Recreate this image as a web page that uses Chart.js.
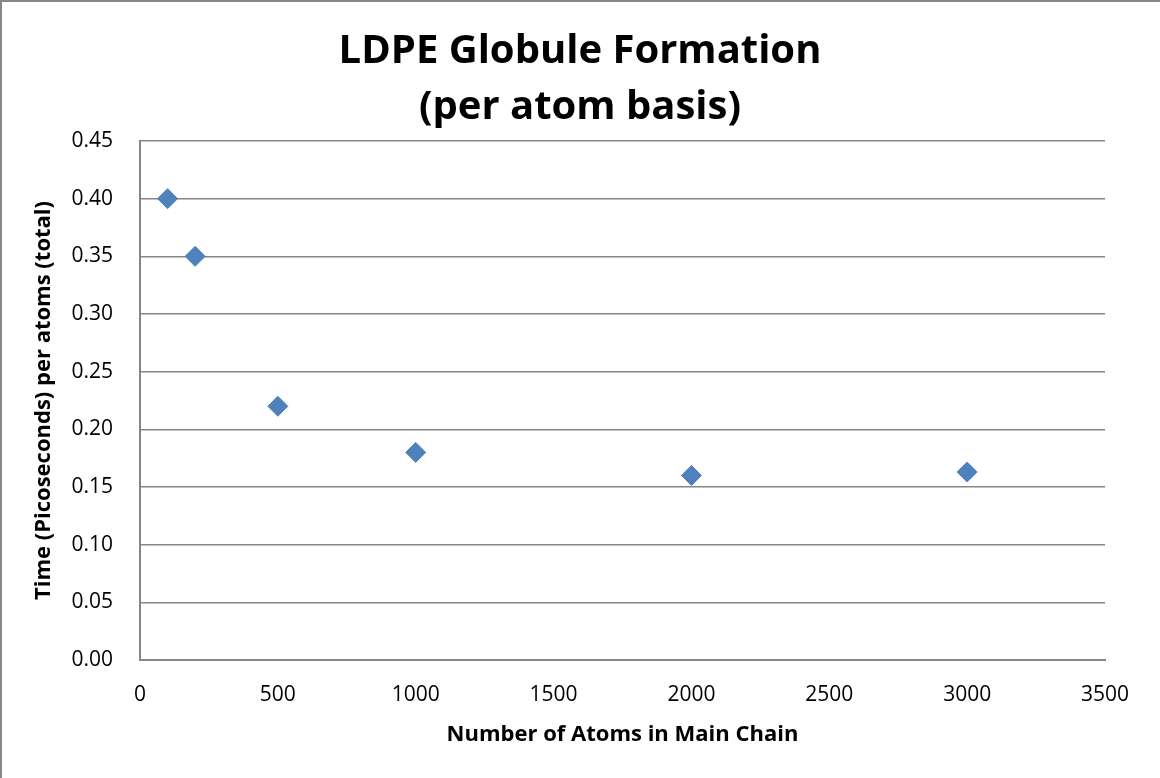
<!DOCTYPE html>
<html>
<head>
<meta charset="utf-8">
<script src="https://cdn.jsdelivr.net/npm/chart.js@4"></script>
<style>
  html, body { margin: 0; padding: 0; background: #fff; }
  #wrap { position: relative; width: 1160px; height: 778px; }
  #frame { position: absolute; left: 0; top: 0; width: 1160px; height: 778px;
           box-sizing: border-box; border-left: 2px solid #868686; border-top: 2px solid #868686;
           pointer-events: none; }
</style>
</head>
<body>
<div id="wrap">
  <canvas id="chart" width="1160" height="778"></canvas>
  <div id="frame"></div>
</div>
<script>
// data
const atoms = [100, 200, 500, 1000, 2000, 3000];
const timePerAtom = [0.40, 0.35, 0.22, 0.18, 0.16, 0.163];

const titleLines = ['LDPE Globule Formation', '(per atom basis)'];
const xTitle = 'Number of Atoms in Main Chain';
const yTitle = 'Time (Picoseconds) per atoms (total)';

const fontFam = '"Open Sans", "Liberation Sans", sans-serif';
const gridGray = '#868686';

const points = atoms.map((a, i) => ({ x: a, y: timePerAtom[i] }));

const ctx = document.getElementById('chart');
new Chart(ctx, {
    type: 'scatter',
    data: {
        datasets: [{
            label: 'Series1',
            data: points,
            pointStyle: 'rectRot',
            pointRadius: 10,
            pointHoverRadius: 10,
            backgroundColor: '#4F81BD',
            borderColor: '#4F81BD',
            borderWidth: 1
        }]
    },
    options: {
        responsive: false,
        animation: false,
        layout: { padding: 0 },
        plugins: {
            legend: { display: false },
            tooltip: { enabled: false },
            title: {
                display: true,
                text: titleLines,
                color: '#000',
                font: { family: fontFam, size: 40, weight: 'bold', lineHeight: 1.4 },
                padding: { top: 24, bottom: 5 }
            }
        },
        scales: {
            x: {
                type: 'linear',
                min: 0,
                max: 3500,
                afterFit: (s) => { s.height = 118; },
                ticks: {
                    stepSize: 500,
                    color: '#000',
                    padding: 22,
                    font: { family: fontFam, size: 21 },
                    callback: (v) => String(v)
                },
                grid: { display: false, drawTicks: false },
                border: { display: true, color: gridGray, width: 2 },
                title: {
                    display: true,
                    text: xTitle,
                    color: '#000',
                    font: { family: fontFam, size: 22, weight: 'bold' },
                    padding: { top: 0, bottom: 30 }
                }
            },
            y: {
                min: 0,
                max: 0.45,
                afterFit: (s) => { s.width = 140; },
                ticks: {
                    stepSize: 0.05,
                    color: '#000',
                    padding: 27,
                    font: { family: fontFam, size: 21 },
                    callback: (v) => v.toFixed(2)
                },
                grid: { color: gridGray, lineWidth: 1.5, drawTicks: false },
                border: { display: true, color: gridGray, width: 2 },
                title: {
                    display: true,
                    text: yTitle,
                    color: '#000',
                    font: { family: fontFam, size: 22, weight: 'bold' },
                    padding: { top: 31, bottom: 0 }
                }
            },
            // empty right-hand axis, only to keep the plot clear of the right edge
            yRight: {
                position: 'right',
                min: 0,
                max: 0.45,
                afterFit: (s) => { s.width = 55; },
                ticks: { display: false },
                grid: { display: false, drawTicks: false },
                border: { display: false }
            }
        }
    }
});
</script>
</body>
</html>
